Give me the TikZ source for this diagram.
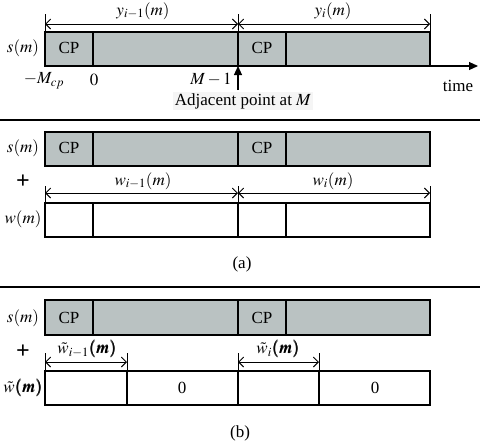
\documentclass[tikz,border=0pt]{standalone}
\usepackage{amsmath}
\usepackage{mathptmx}
\usepackage{bm}
\usepackage{fontspec}
\setmainfont{Liberation Serif}
\usetikzlibrary{arrows.meta}
\definecolor{barfill}{RGB}{186,194,194}
\begin{document}
\begin{tikzpicture}[x=1pt,y=-1pt,font=\fontsize{17}{20}\selectfont,
  barline/.style={line width=1.1pt},
  dimline/.style={line width=0.9pt,{Straight Barb[length=5pt,width=10pt]}-{Straight Barb[length=5pt,width=10pt]}},
  tickline/.style={line width=0.9pt},
  sepline/.style={line width=1.2pt},
  lbl/.style={inner sep=0pt},
  plussign/.style={inner sep=0pt,font=\fontsize{24}{26}\selectfont\bfseries},
  bigarrow/.style={line width=1.1pt,-{Triangle[length=9pt,width=8pt]}}]
\useasboundingbox (0,0) rectangle (484,445);

% ===== top section =====
\fill[barfill] (45,32) rectangle (430,66);
\draw[barline] (45,32) rectangle (430,66);
\draw[barline] (93,32) -- (93,66) (286,32) -- (286,66);
\draw[barline] (238,32) -- (238,66);
\coordinate (ta) at (45,24); \coordinate (tb) at (238,24); \coordinate (tc) at (430,24);
\draw[tickline] (45,14) -- (45,32) (238,14) -- (238,32) (430,14) -- (430,32);
\draw[dimline] (ta) -- (tb);
\draw[dimline] (tb) -- (tc);
\node[lbl] (y1) at (143,11) {$y_{i-1}(m)$};
\node[lbl] (y2) at (333,11) {$y_{i}(m)$};
\node[lbl] (s1) at (23,48) {$s(m)$};
\node[lbl] (cp1) at (69,48) {CP};
\node[lbl] (cp2) at (262,48) {CP};
\coordinate (axs) at (430,66); \coordinate (axe) at (478,66);
\draw[bigarrow] (axs) -- (axe);
\node[lbl] (time) at (458,86) {time};
\node[lbl] (mcp) at (44,81) {$-M_{cp}$};
\node[lbl] (zero) at (94,80) {$0$};
\node[lbl] (m1) at (211,80) {$M-1$};
\node[fill=gray!8,inner sep=1.5pt] (adj) at (243,101) {Adjacent point at $M$};
\coordinate (adjtop) at (238,90); \coordinate (bartop) at (238,66);
\draw[bigarrow] (adjtop) -- (bartop);

\draw[sepline] (0,120) -- (480,120);

% ===== section (a) =====
\fill[barfill] (45,132) rectangle (430,166);
\draw[barline] (45,132) rectangle (430,166);
\draw[barline] (93,132) -- (93,166) (238,132) -- (238,166) (286,132) -- (286,166);
\node[lbl] (s2) at (23,148) {$s(m)$};
\node[lbl] (cp3) at (69,148) {CP};
\node[lbl] (cp4) at (262,148) {CP};
\node[plussign] (plus1) at (23,182) {+};
\draw[tickline] (45,186) -- (45,203) (238,186) -- (238,203) (430,186) -- (430,203);
\coordinate (wa) at (45,193); \coordinate (wb) at (238,193); \coordinate (wc) at (430,193);
\draw[dimline] (wa) -- (wb);
\draw[dimline] (wb) -- (wc);
\node[lbl] (w1) at (143,181) {$w_{i-1}(m)$};
\node[lbl] (w2) at (333,181) {$w_{i}(m)$};
\draw[barline] (45,203) rectangle (430,237);
\draw[barline] (93,203) -- (93,237) (238,203) -- (238,237) (286,203) -- (286,237);
\node[lbl] (wm) at (23,219) {$w(m)$};
\node[lbl] (capa) at (242,264) {(a)};

\draw[sepline] (0,287) -- (480,287);

% ===== section (b) =====
\fill[barfill] (45,300) rectangle (430,335);
\draw[barline] (45,300) rectangle (430,335);
\draw[barline] (93,300) -- (93,335) (238,300) -- (238,335) (286,300) -- (286,335);
\node[lbl] (s3) at (23,318) {$s(m)$};
\node[lbl] (cp5) at (69,318) {CP};
\node[lbl] (cp6) at (262,318) {CP};
\node[plussign] (plus2) at (23,352) {+};
\draw[tickline] (45,353) -- (45,371) (127,353) -- (127,371) (238,353) -- (238,371) (319,353) -- (319,371);
\coordinate (va) at (45,362); \coordinate (vb) at (127,362);
\coordinate (vc) at (238,362); \coordinate (vd) at (319,362);
\draw[dimline] (va) -- (vb);
\draw[dimline] (vc) -- (vd);
\node[lbl] (wt1) at (87,349) {$\tilde{w}_{i-1}\bm{(m)}$};
\node[lbl] (wt2) at (278,349) {$\tilde{w}_{i}\bm{(m)}$};
\draw[barline] (45,371) rectangle (430,405);
\draw[barline] (127,371) -- (127,405) (238,371) -- (238,405) (319,371) -- (319,405);
\node[lbl] (z1) at (182,388) {0};
\node[lbl] (z2) at (375,388) {0};
\node[lbl] (wtm) at (23,388) {$\tilde{w}\bm{(m)}$};
\node[lbl] (capb) at (240,433) {(b)};
\end{tikzpicture}
\end{document}
